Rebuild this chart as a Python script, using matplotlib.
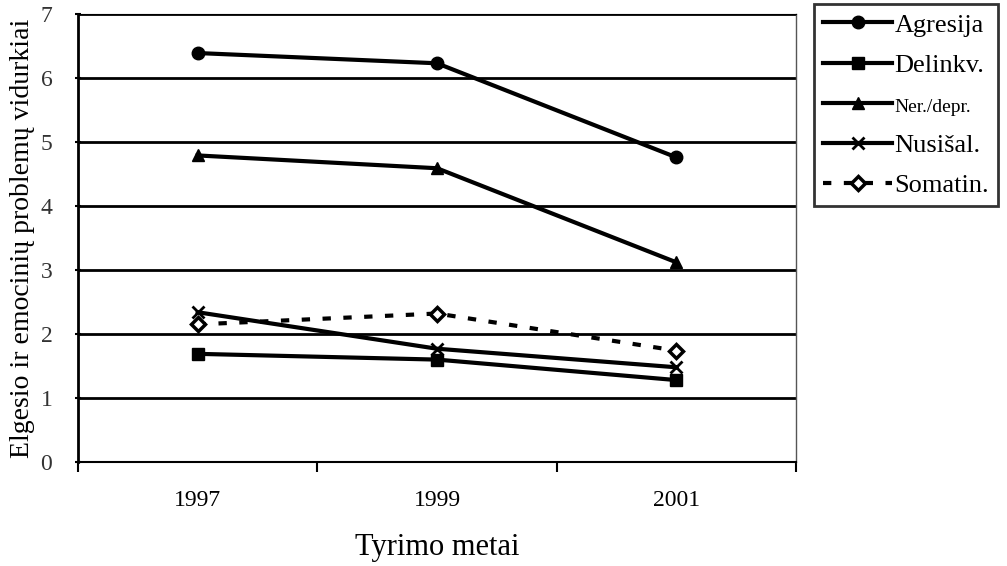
import matplotlib.pyplot as plt
from matplotlib.lines import Line2D

years = ['1997', '1999', '2001']
agresija = [6.39, 6.23, 4.76]
delinkv = [1.69, 1.60, 1.28]
ner_depr = [4.79, 4.59, 3.12]
nusisal = [2.34, 1.77, 1.48]
somatin = [2.15, 2.32, 1.74]

series_labels = ['Agresija', 'Delinkv.', 'Ner./depr.', 'Nusišal.', 'Somatin.']


def main():
    plt.rcParams['font.family'] = ['Liberation Serif', 'DejaVu Serif']
    fig = plt.figure(figsize=(10.07, 5.66), dpi=100)
    ax = fig.add_axes([78 / 1007, 1 - 462 / 566, (796 - 78) / 1007, (462 - 14) / 566])

    x = list(range(len(years)))
    ax.plot(x, agresija, color='black', lw=3, marker='o', ms=9, label=series_labels[0])
    ax.plot(x, delinkv, color='black', lw=3, marker='s', ms=9, label=series_labels[1])
    ax.plot(x, ner_depr, color='black', lw=3, marker='^', ms=9, label=series_labels[2])
    ax.plot(x, nusisal, color='black', lw=3, marker='x', ms=9, mew=2, label=series_labels[3])
    ax.plot(x, somatin, color='black', lw=3, ls=(0, (2, 3)), marker='D', ms=7,
            mfc='white', mew=2.5, label=series_labels[4])

    ax.set_xlim(-0.5, 2.5)
    ax.set_ylim(0, 7)
    ax.set_yticks(range(0, 8))
    ax.set_xticks(x)
    ax.set_xticklabels(years)
    ax.set_xticks([-0.5, 0.5, 1.5, 2.5], minor=True)
    ax.tick_params(axis='x', which='major', length=0, labelsize=17, pad=20)
    ax.tick_params(axis='x', which='minor', length=7, width=1.5, direction='out')
    ax.tick_params(axis='y', length=5, width=1.5, direction='inout', labelsize=17, pad=16,
                   labelcolor='#333333')
    ax.yaxis.grid(True, color='black', lw=2)
    ax.set_axisbelow(True)

    ax.spines['left'].set_linewidth(2)
    ax.spines['bottom'].set_linewidth(1.5)
    ax.spines['top'].set_linewidth(0.8)
    ax.spines['top'].set_linestyle((0, (1, 1)))
    ax.spines['right'].set_linewidth(1)
    ax.spines['right'].set_color('#555555')

    ax.set_xlabel('Tyrimo metai', fontsize=22, labelpad=16)
    ax.set_ylabel('Elgesio ir emocinių problemų vidurkiai', fontsize=20, labelpad=4)

    handles = [
        Line2D([], [], color='black', lw=3, marker='o', ms=9),
        Line2D([], [], color='black', lw=3, marker='s', ms=9),
        Line2D([], [], color='black', lw=3, marker='^', ms=9),
        Line2D([], [], color='black', lw=3, marker='x', ms=9, mew=2),
        Line2D([], [], color='black', lw=3, ls=(0, (2, 3)), marker='D', ms=7,
               mfc='white', mew=2.5),
    ]
    leg = fig.legend(handles, series_labels, loc='upper left',
                     bbox_to_anchor=(814 / 1007, 1 - 4 / 566), fontsize=19,
                     frameon=True, fancybox=False, edgecolor='black',
                     handlelength=2.6, handletextpad=0.1, labelspacing=0.64,
                     borderpad=0.35, borderaxespad=0)
    leg.get_frame().set_linewidth(2)
    leg.get_texts()[2].set_fontsize(14)

    fig.savefig('out.png', dpi=100)


if __name__ == '__main__':
    main()
